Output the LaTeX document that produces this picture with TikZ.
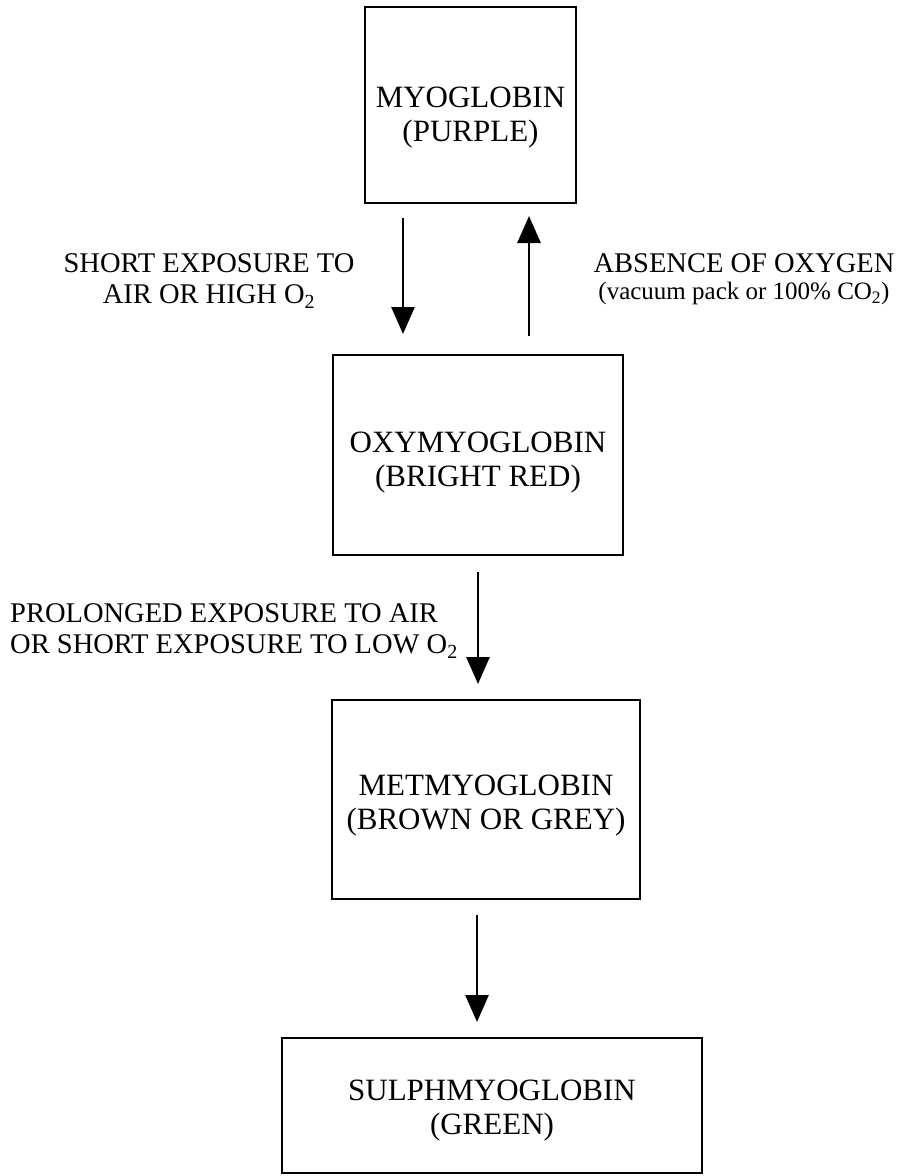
\documentclass[tikz,border=0pt]{standalone}
\usepackage{fontspec}
\setmainfont{Liberation Serif}
\usetikzlibrary{arrows.meta}
\newcommand{\twolines}[3]{\raisebox{#3}[\height][\depth]{\begin{tabular}{@{}c@{}}#1\\#2\end{tabular}}}
\tikzset{
  box/.style={draw=black, line width=2.6pt, align=center, inner sep=0pt,
              font=\fontsize{31}{34}\selectfont},
  lbl/.style={align=center, inner sep=0pt, font=\fontsize{28.5}{31}\selectfont},
  flow/.style={line width=2.8pt, -{Triangle[length=27pt,width=23pt]}}
}
\begin{document}
\begin{tikzpicture}[x=1pt,y=-1pt]
\useasboundingbox (0,0) rectangle (915,1176);
\node[box, minimum width=211pt, minimum height=196pt] (myo) at (470.5,105) {\twolines{MYOGLOBIN}{(PURPLE)}{-13pt}};
\node[box, minimum width=290pt, minimum height=200pt] (oxy) at (478,455) {\twolines{OXYMYOGLOBIN}{(BRIGHT RED)}{-8pt}};
\node[box, minimum width=308pt, minimum height=199pt] (met) at (486,799.5) {\twolines{METMYOGLOBIN}{(BROWN OR GREY)}{-6pt}};
\node[box, minimum width=420pt, minimum height=135pt] (sul) at (492,1105.5) {\twolines{SULPHMYOGLOBIN}{(GREEN)}{-5pt}};

\coordinate (a1s) at (403,218); \coordinate (a1e) at (403,334);
\coordinate (a2s) at (529,336); \coordinate (a2e) at (529,216);
\coordinate (a3s) at (478,572); \coordinate (a3e) at (478,684);
\coordinate (a4s) at (477,915); \coordinate (a4e) at (477,1022);
\draw[flow] (a1s) -- (a1e);
\draw[flow] (a2s) -- (a2e);
\draw[flow] (a3s) -- (a3e);
\draw[flow] (a4s) -- (a4e);

\node[lbl] (l1) at (209,281) {SHORT EXPOSURE TO\\AIR OR HIGH O\textsubscript{2}};
\node[lbl, anchor=north] (l2a) at (744,253) {ABSENCE OF OXYGEN};
\node[lbl, anchor=north, font=\fontsize{25}{28}\selectfont] (l2b) at (744,282) {(vacuum pack or 100\% CO\textsubscript{2})};
\node[lbl, anchor=west, align=left] (l3) at (10,631) {PROLONGED EXPOSURE TO AIR\\OR SHORT EXPOSURE TO LOW O\textsubscript{2}};
\end{tikzpicture}
\end{document}
